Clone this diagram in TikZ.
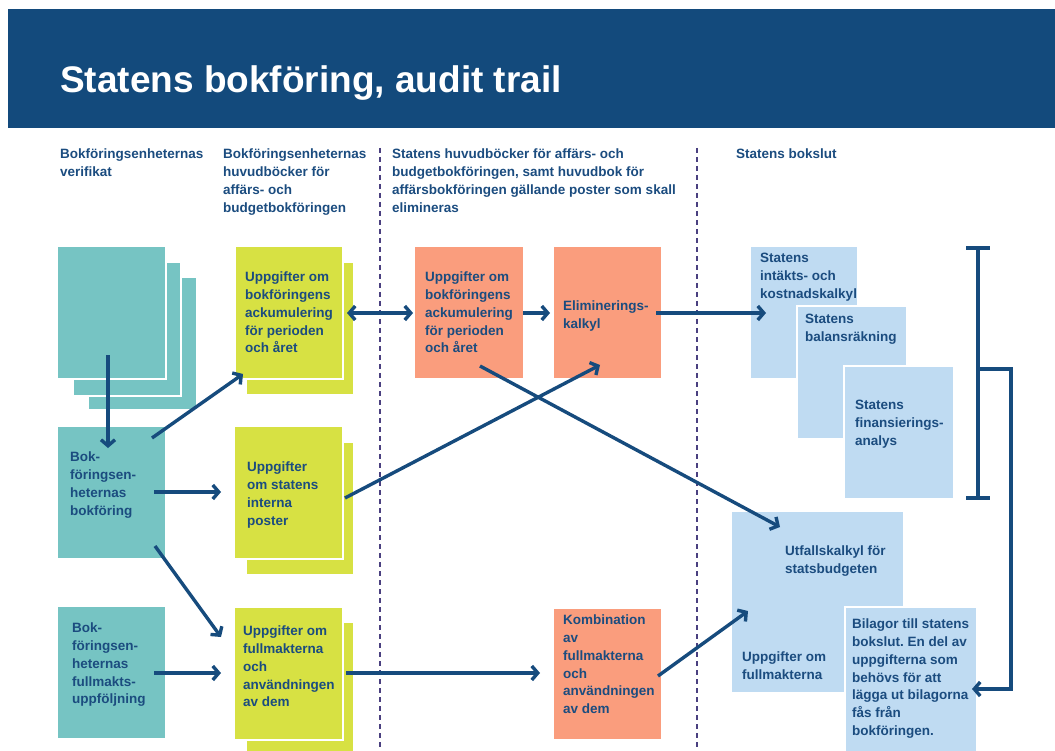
\documentclass[tikz,border=0pt]{standalone}
\usepackage{fontspec}
\setmainfont{Liberation Sans}
\usetikzlibrary{arrows.meta,calc}
\definecolor{hdr}{HTML}{134A7C}
\definecolor{txtc}{HTML}{1B4C7F}
\definecolor{arrc}{HTML}{164B7D}
\definecolor{tealc}{HTML}{76C4C3}
\definecolor{limec}{HTML}{D7E143}
\definecolor{orc}{HTML}{FA9D7D}
\definecolor{lbc}{HTML}{BFDBF2}
\definecolor{dashc}{HTML}{4A4080}
\frenchspacing
\begin{document}
\begin{tikzpicture}[x=1pt,y=-1pt,
  bx/.style={draw=white,line width=1.2pt,anchor=north west,inner sep=0pt,outer sep=0pt},
  wh/.style 2 args={minimum width=#1pt,minimum height=#2pt},
  tealb/.style={bx,fill=tealc},
  limeb/.style={bx,fill=limec},
  orb/.style={bx,fill=orc},
  lbb/.style={bx,fill=lbc},
  txt/.style={anchor=north west,inner sep=0pt,align=left,text=txtc,font=\bfseries\fontsize{13.5}{17.7}\selectfont},
  arr/.style={draw=arrc,line width=3.4pt,-{Straight Barb[length=6pt,width=14pt]}},
  darr/.style={draw=arrc,line width=3.4pt,{Straight Barb[length=6pt,width=14pt]}-{Straight Barb[length=6pt,width=14pt]}},
  sep/.style={draw=dashc,line width=1.3pt,dash pattern=on 5pt off 4pt},
  brk/.style={draw=arrc,line width=3.2pt},
]
\useasboundingbox (0,0) rectangle (1055,751);
% header
\node[anchor=north west,fill=hdr,inner sep=0pt,minimum width=1047pt,minimum height=119pt] (band) at (8,9) {};
\node[anchor=base west,inner sep=0pt,text=white,font=\bfseries\fontsize{37}{40}\selectfont] (title) at (60,93) {Statens bokföring, audit trail};
% column headings
\node[txt] (h1) at (60,149) {Bokföringsenheternas\\verifikat};
\node[txt] (h2) at (223,149) {Bokföringsenheternas\\huvudböcker för\\affärs- och\\budgetbokföringen};
\node[txt] (h3) at (392,149) {Statens huvudböcker för affärs- och\\budgetbokföringen, samt huvudbok för\\affärsbokföringen gällande poster som skall\\elimineras};
\node[txt] (h4) at (736,149) {Statens bokslut};
% separators
\coordinate (s1t) at (380,148); \coordinate (s1b) at (380,751);
\coordinate (s2t) at (697,148); \coordinate (s2b) at (697,751);
\draw[sep] (s1t) -- (s1b);
\draw[sep] (s2t) -- (s2b);
% teal column
\node[tealb,wh={109}{133}] (v3) at (88,277) {};
\node[tealb,wh={108}{134}] (v2) at (73,262) {};
\node[tealb,wh={109}{133}] (v1) at (57,246) {};
\node[tealb,wh={109}{133}] (tb) at (57,426) {};
\node[tealb,wh={109}{133}] (tf) at (57,606) {};
% lime column
\node[limeb,wh={108}{133}] (ya2) at (246,262) {};
\node[limeb,wh={108}{133}] (ya) at (235,246) {};
\node[limeb,wh={108}{133}] (yb2) at (246,442) {};
\node[limeb,wh={109}{133}] (yb) at (234,426) {};
\node[limeb,wh={108}{140}] (yc2) at (246,622) {};
\node[limeb,wh={109}{133}] (yc) at (234,607) {};
% orange
\node[orb,wh={110}{133}] (oa) at (414,246) {};
\node[orb,wh={109}{133}] (ob) at (553,246) {};
\node[orb,wh={109}{132}] (oc) at (553,608) {};
% light blue
\node[lbb,wh={108}{133}] (la) at (750,246) {};
\node[lbb,wh={110}{133}] (lb) at (797,306) {};
\node[lbb,wh={110}{133}] (lc) at (844,366) {};
\node[lbb,wh={173}{182}] (ld) at (731,511) {};
\node[lbb,wh={132}{150}] (le) at (845,607) {};
% texts
\node[txt] (ttb) at (70,452) {Bok-\\föringsen-\\heternas\\bokföring};
\node[txt] (ttf) at (72,623) {Bok-\\föringsen-\\heternas\\fullmakts-\\uppföljning};
\node[txt] (tya) at (245,272) {Uppgifter om\\bokföringens\\ackumulering\\för perioden\\och året};
\node[txt] (tyb) at (247,462) {Uppgifter\\om statens\\interna\\poster};
\node[txt] (tyc) at (243,626) {Uppgifter om\\fullmakterna\\och\\användningen\\av dem};
\node[txt] (toa) at (425,272) {Uppgifter om\\bokföringens\\ackumulering\\för perioden\\och året};
\node[txt] (tob) at (563,301) {Eliminerings-\\kalkyl};
\node[txt] (toc) at (563,615) {Kombination\\av\\fullmakterna\\och\\användningen\\av dem};
\node[txt] (tla) at (760,253) {Statens\\intäkts- och\\kostnadskalkyl};
\node[txt] (tlb) at (805,314) {Statens\\balansräkning};
\node[txt] (tlc) at (855,400) {Statens\\finansierings-\\analys};
\node[txt] (tld) at (785,546) {Utfallskalkyl för\\statsbudgeten};
\node[txt] (tld2) at (742,652) {Uppgifter om\\fullmakterna};
\node[txt] (tle) at (852,619) {Bilagor till statens\\bokslut. En del av\\uppgifterna som\\behövs för att\\lägga ut bilagorna\\fås från\\bokföringen.};
% arrows
\draw[arr] ($(v1.north west)+(51,109)$) -- ($(tb.north west)+(51,22)$);
\draw[arr] ($(tb.north west)+(95,12)$) -- ($(ya.north west)+(8,128)$);
\draw[arr] ($(tb.north west)+(97,66)$) -- ($(yb.north west)+(-13,66)$);
\draw[arr] ($(tb.north west)+(98,120)$) -- ($(yc.north west)+(-13,30)$);
\draw[arr] ($(tf.north west)+(97,67)$) -- ($(yc.north west)+(-13,66)$);
\draw[darr] ($(ya.north west)+(112,67)$) -- ($(oa.north west)+(-1,67)$);
\draw[arr] ($(oa.north west)+(109,67)$) -- ($(ob.north west)+(-3,67)$);
\draw[arr] ($(ob.north west)+(103,67)$) -- ($(la.north west)+(16,67)$);
\draw[arr] ($(oa.north west)+(66,120)$) -- ($(ld.north west)+(49,16)$);
\draw[arr] ($(yb.north west)+(111,72)$) -- ($(ob.north west)+(47,119)$);
\draw[arr] ($(yc.north west)+(112,66)$) -- ($(oc.north west)+(-13,65)$);
\draw[arr] ($(oc.north west)+(105,68)$) -- ($(ld.north west)+(17,100)$);
% bracket
\coordinate (bt) at (978,248); \coordinate (bb) at (978,498);
\coordinate (btl) at (966,248); \coordinate (btr) at (990,248);
\coordinate (bbl) at (966,498); \coordinate (bbr) at (990,498);
\coordinate (bm) at (978,369); \coordinate (bmr) at (1011,369);
\coordinate (bdr) at (1011,689);
\draw[brk] (bt) -- (bb);
\draw[brk] (btl) -- (btr);
\draw[brk] (bbl) -- (bbr);
\draw[arr] (bm) -- (bmr) -- (bdr) -- ($(le.north west)+(127,82)$);
\end{tikzpicture}
\end{document}
